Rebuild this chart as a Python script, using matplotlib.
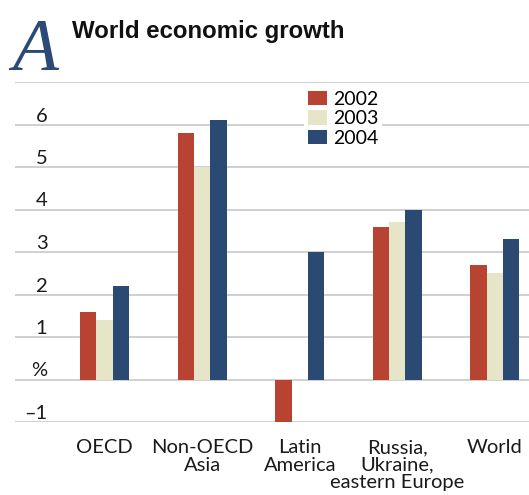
import matplotlib
matplotlib.use("Agg")
import matplotlib.pyplot as plt
import matplotlib.transforms as mtransforms
from matplotlib.patches import Patch
import numpy as np

categories = ["OECD", "Non-OECD\nAsia", "Latin\nAmerica", "Russia,\nUkraine,\neastern Europe", "World"]
years = ["2002", "2003", "2004"]
v2002 = [1.6, 5.8, -1.0, 3.6, 2.7]
v2003 = [1.4, 5.0, 0.0, 3.7, 2.5]
v2004 = [2.2, 6.1, 3.0, 4.0, 3.3]
yticks = [-1, 0, 1, 2, 3, 4, 5, 6, 7]
ytick_labels = ["\u20131", "%", "1", "2", "3", "4", "5", "6", ""]
colors = ["#b84332", "#e6e5c8", "#2a4a74"]

plt.rcParams['font.family'] = ['Lato', 'DejaVu Sans']

W, H = 529, 495
fig = plt.figure(figsize=(W / 100, H / 100), dpi=100)
ax = fig.add_axes([15 / W, (H - 422) / H, (W - 15) / W, (422 - 82) / H])

x = np.arange(len(categories))
bw = 0.167
for i, (vals, c) in enumerate(zip([v2002, v2003, v2004], colors)):
    ax.bar(x + (i - 1) * bw, vals, width=bw, color=c, zorder=3, linewidth=0)

ax.set_xlim(-0.918, 4.35)
ax.set_ylim(-1, 7)
for yv in yticks:
    ax.axhline(yv, color="#c8c8c8", linewidth=1.2, zorder=1)
for s in ax.spines.values():
    s.set_visible(False)
ax.set_xticks([])
ax.set_yticks([])

ytr = ax.get_yaxis_transform()
off = mtransforms.offset_copy(ytr, fig=fig, x=0, y=3, units='dots')
for yv, lab in zip(yticks, ytick_labels):
    ax.text(0.063, yv, lab, transform=off, ha='right', va='baseline',
            fontsize=14.5, color="#1a1a1a")

xtr = ax.get_xaxis_transform()
for xi, lab in zip(x, categories):
    ax.text(xi, -0.05, lab, transform=xtr, ha='center', va='top',
            fontsize=14.5, color="#1a1a1a", linespacing=1.05)

handles = [Patch(facecolor=c, edgecolor='none') for c in colors]
leg = fig.legend(handles, years, loc='upper left',
                 bbox_to_anchor=(304 / W, 1 - 87 / H), frameon=True,
                 facecolor='white', edgecolor='none', framealpha=1,
                 fontsize=14, handlelength=1.0, handleheight=0.75,
                 handletextpad=0.3, labelspacing=0.12, borderpad=0.2,
                 borderaxespad=0)
leg.set_zorder(10)

fig.text(72 / W, 1 - 38 / H, "World economic growth", fontsize=17.3,
         fontweight='bold', family=['Liberation Sans', 'DejaVu Sans'],
         color="#111111", va='baseline')
fig.text(12 / W, 1 - 70 / H, "A", fontsize=54, style='italic',
         family=['Liberation Serif', 'DejaVu Serif'], color="#2c4a77",
         va='baseline')

fig.savefig("out.png", dpi=100)
